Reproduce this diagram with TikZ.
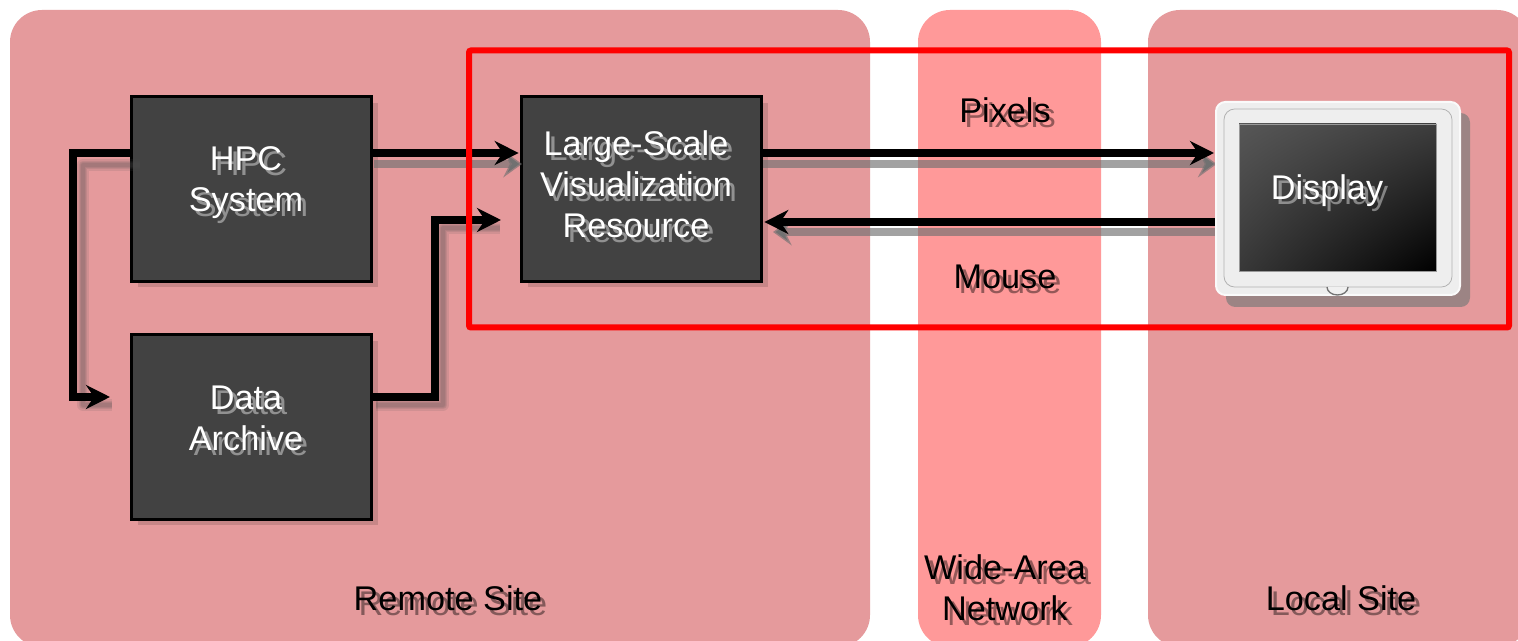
\documentclass[tikz,border=0pt]{standalone}
\usepackage{fontspec}
\setmainfont{Liberation Sans}
\usetikzlibrary{arrows.meta,shadings}
\definecolor{sitecol}{HTML}{E59A9C}
\definecolor{wancol}{HTML}{FF9999}
\definecolor{boxcol}{HTML}{424242}
\definecolor{shcol}{HTML}{717171}
\definecolor{blurcol}{HTML}{505050}
\definecolor{dshadow}{HTML}{9C8484}
\definecolor{bezel}{HTML}{EEEEEE}
\tikzset{
  x=0.75pt,y=-0.75pt,
  site/.style={rounded corners=24pt,draw=none},
  sys/.style={draw=black,line width=2.25pt,fill=boxcol,minimum width=180pt,minimum height=138.5pt,inner sep=0pt},
  sysshadow/.style={fill=black,fill opacity=.13,draw=none,minimum width=180pt,minimum height=138.5pt,inner sep=0pt},
  lab/.style={font=\fontsize{25.7}{30.75}\selectfont,align=center,inner sep=0pt,text opacity=1},
  wlab/.style={lab,text=white},
  blab/.style={lab,text=black},
  wsh/.style={lab,text=white,text opacity=.42},
  bsh/.style={lab,text=black,text opacity=.42},
  conn/.style={line width=5.5pt,draw=black,-{Stealth[length=18pt,width=18pt,inset=6pt]}},
  connsh/.style={line width=6.5pt,draw=shcol,draw opacity=.65,-{Stealth[length=14pt,width=20pt,inset=5pt]}},
  blur/.style={draw=blurcol,draw opacity=.13,line join=round},
}
\newcommand{\shlabel}[5]{%
  \node[#4sh] (#1s) at (#2+5,#3+5) {#5};
  \node[#4lab] (#1) at (#2,#3) {#5};}
\begin{document}
\begin{tikzpicture}
\useasboundingbox (0,0) rectangle (1518,641);
\begin{scope}
\clip (0,0) rectangle (1518,641);
\fill[white] (0,0) rectangle (1518,641);
\fill[site,sitecol] (10,10) rectangle (870,647);
\fill[site,wancol] (918,10) rectangle (1101,647);
\fill[site,sitecol] (1148,10) rectangle (1529,647);
\end{scope}
% system boxes
\node[sysshadow] (hpcs) at (257.5,195) {};
\node[sysshadow] (viss) at (647.5,195) {};
\node[sysshadow] (dats) at (257.5,433) {};
\node[sys] (hpc) at (251.5,189) {};
\node[sys] (vis) at (641.5,189) {};
\node[sys] (dat) at (251.5,427) {};
% named bends and free ends
\coordinate (p1) at (73,153);
\coordinate (p2) at (73,397);
\coordinate (p3) at (435,397);
\coordinate (p4) at (435,220);
\coordinate (p5) at (501,220);
\coordinate (p6) at (110,397);
\coordinate (dtop) at (1214,153);
\coordinate (dmid) at (1216,222);
% blurred shadows of the elbow connectors
\foreach \w in {2.5pt,4.5pt,6.5pt,8.5pt}{
  \draw[blur,line width=\w] (140,165) -- (83,165) -- (83,405) -- (112,405);
  \draw[blur,line width=\w] (376,405) -- (443,405) -- (443,228) -- (500,228);
}
% straight connector shadows
\draw[connsh] ([yshift=18.75pt]vis.west |- hpc.east) ++(-146,0) -- ([shift={(1.5pt,18.75pt)}]vis.west);
\draw[connsh] ([yshift=18.75pt]vis.east) -- ([shift={(2pt,-8.25pt)}]dtop);
\draw[connsh] ([yshift=-7.5pt]dmid) -- ([shift={(7.5pt,-32.25pt)}]vis.east);
% connectors
\draw[conn] ([yshift=27pt]hpc.east) -- ([xshift=-1pt,yshift=27pt]vis.west);
\draw[conn] ([yshift=27pt]vis.east) -- (dtop);
\draw[conn] (dmid) -- ([xshift=1pt,yshift=-24.75pt]vis.east);
\draw[conn] ([yshift=27pt]hpc.west) -- (p1) -- (p2) -- (p6);
\draw[conn] ([yshift=22.5pt]dat.east) -- (p3) -- (p4) -- (p5);
% red frame
\node[draw=red,line width=4.5pt,rounded corners=1.5pt,minimum width=780pt,minimum height=207.75pt,inner sep=0pt] (frame) at (989,189) {};
% display
\fill[dshadow,rounded corners=7pt] (1226,113) rectangle (1470,307);
\draw[draw=white!96!gray,line width=1.5pt,fill=bezel,rounded corners=7pt] (1216,102) rectangle (1460,295);
\node[draw=black!30,line width=.6pt,rounded corners=8pt,fill=bezel,minimum width=171pt,minimum height=133.5pt,inner sep=0pt] (bezelinner) at (1338,198) {};
\draw[draw=black!55,fill=white!88!gray,line width=1pt] (1327,287) arc[start angle=180,end angle=0,x radius=10.5,y radius=8];
\shade[upper left=black!66,upper right=black!76,lower left=black!78,lower right=black,draw=black!40,line width=.3pt] (1239,124) rectangle (1436,271);
\node[minimum width=147pt,minimum height=109pt,inner sep=0pt] (screen) at (1337.5,197.5) {};
% labels
\shlabel{thpc}{246}{183}{w}{HPC\\System}
\shlabel{tvis}{636}{184}{w}{Large-Scale\\Visualization\\Resource}
\shlabel{tdat}{246}{418}{w}{Data\\Archive}
\shlabel{tdis}{1327}{191}{w}{Display}
\shlabel{tpix}{1005}{110}{b}{Pixels}
\shlabel{tmou}{1005}{277}{b}{Mouse}
\shlabel{trem}{448}{598}{b}{Remote Site}
\shlabel{twan}{1005}{588}{b}{Wide-Area\\Network}
\shlabel{tloc}{1341}{598}{b}{Local Site}
\end{tikzpicture}
\end{document}
